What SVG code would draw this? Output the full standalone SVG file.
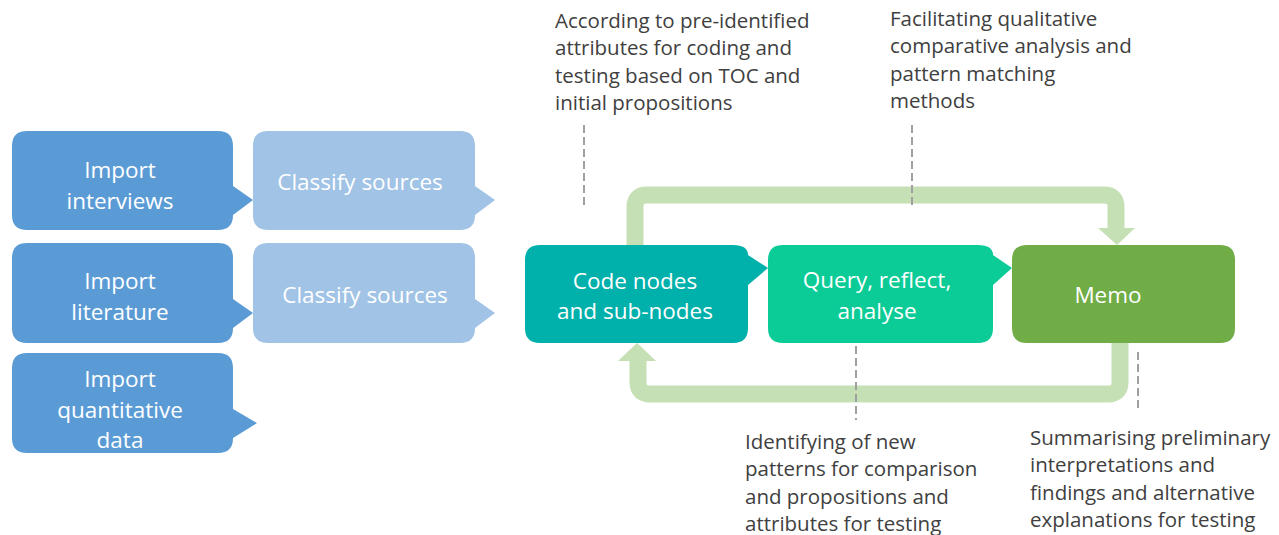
<svg xmlns="http://www.w3.org/2000/svg" width="1279" height="535" viewBox="0 0 1279 535">
<style>
.t{font-family:"Open Sans","Liberation Sans",sans-serif;fill:#fff;font-size:22.5px;text-anchor:middle}
.a{font-family:"Open Sans","Liberation Sans",sans-serif;fill:#404040;font-size:20.5px}
.loop{fill:none;stroke:#C5E0B4;stroke-width:17}
.dash{stroke:#A0A0A0;stroke-width:2;stroke-dasharray:8 4;fill:none}
.dk{fill:#5B9BD5}.lt{fill:#A0C3E6}
</style>
<rect width="1279" height="535" fill="#fff"/>
<g id="classify1"><path class="lt" d="M268 131H460Q475 131 475 146V186L495 200L475 215V215Q475 230 460 230H268Q253 230 253 215V146Q253 131 268 131Z"/><text class="t" x="360" y="190">Classify sources</text></g>
<g id="classify2"><path class="lt" d="M268 243H460Q475 243 475 258V299L495 313L475 328V328Q475 343 460 343H268Q253 343 253 328V258Q253 243 268 243Z"/><text class="t" x="365" y="303">Classify sources</text></g>
<g id="import1"><path class="dk" d="M27 131H218Q233 131 233 146V186L253 200L233 215Q233 230 218 230H27Q12 230 12 215V146Q12 131 27 131Z"/><text class="t" x="120" y="178">Import</text><text class="t" x="120" y="209">interviews</text></g>
<g id="import2"><path class="dk" d="M27 243H218Q233 243 233 258V299L253 313L233 328Q233 343 218 343H27Q12 343 12 328V258Q12 243 27 243Z"/><text class="t" x="120" y="289">Import</text><text class="t" x="120" y="320">literature</text></g>
<g id="import3"><path class="dk" d="M27 353H218Q233 353 233 368V409L257 423L233 438Q233 453 218 453H27Q12 453 12 438V368Q12 353 27 353Z"/><text class="t" x="120" y="387">Import</text><text class="t" x="120" y="418">quantitative</text><text class="t" x="120" y="448">data</text></g>
<g id="connectors">
<path class="loop" d="M635 246V207Q635 195 647 195H1104Q1116 195 1116 207V230"/>
<polygon fill="#C5E0B4" points="1098,228 1135,228 1117,245"/>
<path class="loop" d="M1120 342V382Q1120 394 1108 394H650Q638 394 638 382V359"/>
<polygon fill="#C5E0B4" points="618,361 656,361 637,343"/>
<line class="dash" x1="584" y1="125" x2="584" y2="206"/>
<line class="dash" x1="912" y1="125" x2="912" y2="206"/>
<line class="dash" x1="856" y1="346" x2="856" y2="420"/>
<line class="dash" x1="1138" y1="352" x2="1138" y2="409"/>
</g>
<g id="code"><path fill="#00B0AA" d="M540 245H733Q748 245 748 255L768 268L748 285V328Q748 343 733 343H540Q525 343 525 328V260Q525 245 540 245Z"/><text class="t" x="635" y="289">Code nodes</text><text class="t" x="635" y="319">and sub-nodes</text></g>
<g id="query"><path fill="#0BCB96" d="M783 245H978Q993 245 993 255L1012 268L993 285V328Q993 343 978 343H783Q768 343 768 328V260Q768 245 783 245Z"/><text class="t" x="877" y="288">Query, reflect,</text><text class="t" x="877" y="319">analyse</text></g>
<g id="memo"><path fill="#70AD47" d="M1027 245H1220Q1235 245 1235 260V328Q1235 343 1220 343H1027Q1012 343 1012 328V260Q1012 245 1027 245Z"/><text class="t" x="1108" y="303">Memo</text></g>
<g id="note1"><text class="a" x="555" y="28">According to pre-identified</text><text class="a" x="555" y="55">attributes for coding and</text><text class="a" x="555" y="83">testing based on TOC and</text><text class="a" x="555" y="110">initial propositions</text></g>
<g id="note2"><text class="a" x="890" y="26">Facilitating qualitative</text><text class="a" x="890" y="53">comparative analysis and</text><text class="a" x="890" y="81">pattern matching</text><text class="a" x="890" y="108">methods</text></g>
<g id="note3"><text class="a" x="745" y="449">Identifying of new</text><text class="a" x="745" y="476">patterns for comparison</text><text class="a" x="745" y="504">and propositions and</text><text class="a" x="745" y="531">attributes for testing</text></g>
<g id="note4"><text class="a" x="1030" y="445">Summarising preliminary</text><text class="a" x="1030" y="472">interpretations and</text><text class="a" x="1030" y="500">findings and alternative</text><text class="a" x="1030" y="527">explanations for testing</text></g>
</svg>
